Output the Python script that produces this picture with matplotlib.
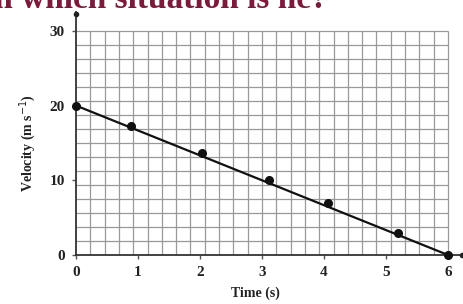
import matplotlib
matplotlib.use("Agg")
import matplotlib.pyplot as plt
import numpy as np

# Data
time_s = [0, 0.88, 2.03, 3.12, 4.06, 5.2, 6.0]
velocity = [20, 17.3, 13.6, 10.0, 6.9, 2.9, 0]
fit_time = [0, 6]
fit_velocity = [20, 0]
x_ticks = [0, 1, 2, 3, 4, 5, 6]
y_ticks = [0, 10, 20, 30]
title_text = "in which situation is he?"
x_label = "Time (s)"
y_label = "Velocity (m s$^{-1}$)"

serif = ["Liberation Serif", "DejaVu Serif"]

fig = plt.figure(figsize=(4.64, 3.04), dpi=100)
ax = fig.add_axes([76 / 464, 49 / 304, 387.5 / 464, 242.8 / 304])
ax.set_xlim(0, 6.25)
ax.set_ylim(0, 32.5)

# square-ish graph-paper grid (26 x 16 squares)
gx = np.linspace(0, 6, 27)
gy = np.linspace(0, 30, 17)
ax.vlines(gx[1:], 0, 30, color="#999999", lw=0.9, zorder=1)
ax.hlines(gy[1:], 0, 6, color="#999999", lw=0.9, zorder=1)

ax.plot(fit_time, fit_velocity, color="#111111", lw=1.6, zorder=3)
ax.plot(time_s, velocity, "o", color="#111111", ms=5.5, zorder=4, clip_on=False)

for s in ["top", "right"]:
    ax.spines[s].set_visible(False)
for s in ["left", "bottom"]:
    ax.spines[s].set_color("#333333")
    ax.spines[s].set_linewidth(1.3)
# axis end dots
ax.plot([0], [32.3], "o", color="#222222", ms=3, clip_on=False, zorder=5)
ax.plot([6.23], [0], "o", color="#222222", ms=3, clip_on=False, zorder=5)

ax.set_xticks(x_ticks)
ax.set_yticks(y_ticks)
ax.set_xticklabels([str(t) for t in x_ticks], fontfamily=serif, fontsize=11, fontweight="bold", color="#222222")
ax.set_yticklabels([str(t) for t in y_ticks], fontfamily=serif, fontsize=11, fontweight="bold", color="#222222")
ax.tick_params(axis="both", length=3, width=1, color="#555555", pad=5)

ax.text(2.9, -0.158, x_label, transform=ax.get_xaxis_transform(), ha="center", va="center",
        fontfamily=serif, fontsize=10, fontweight="bold", color="#222222")
ax.text(-0.125, 15, y_label, transform=ax.get_yaxis_transform(), ha="center", va="center",
        rotation=90, fontfamily=serif, fontsize=10, fontweight="bold", color="#222222")

fig.text(-15 / 464, 1 - 8 / 304, title_text, ha="left", va="baseline",
         fontfamily=serif, fontsize=24, fontweight="bold", color="#7a1a3c")

fig.savefig("out.png", dpi=100)
